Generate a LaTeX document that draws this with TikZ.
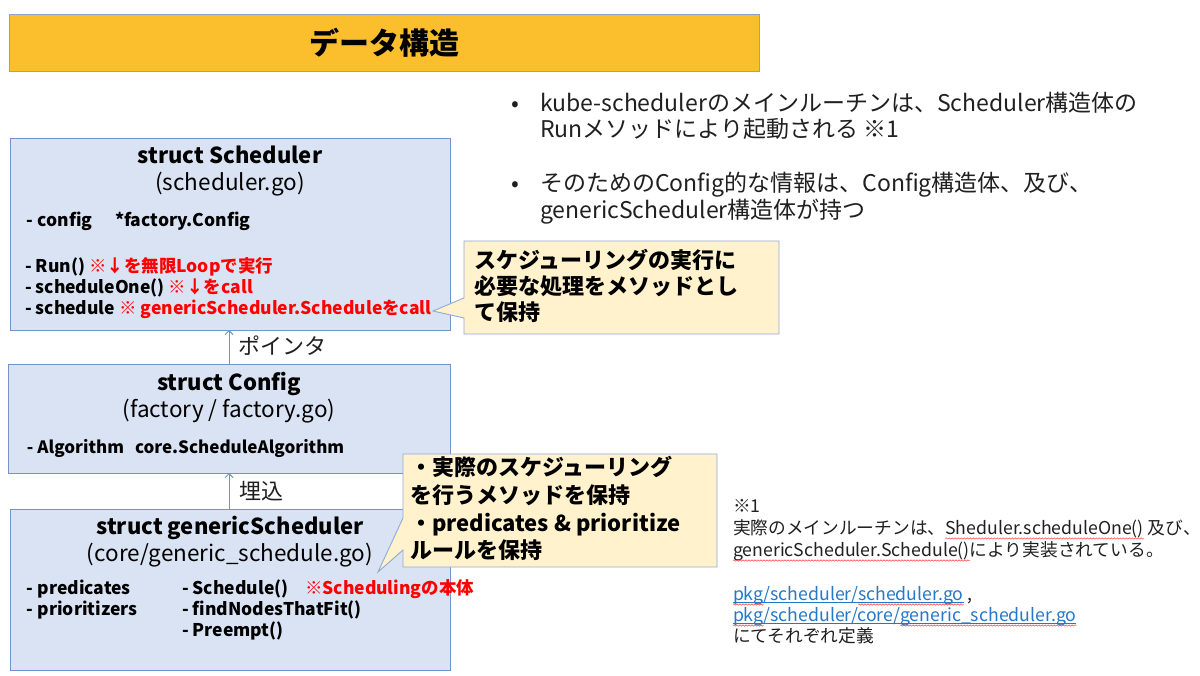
\documentclass[tikz,border=0pt]{standalone}
\usepackage{fontspec}
\setmainfont{Noto Sans CJK JP}
\usetikzlibrary{arrows.meta,decorations.pathmorphing}
\definecolor{boxfill}{HTML}{DAE3F3}
\definecolor{boxline}{HTML}{7393CC}
\definecolor{titlefill}{HTML}{FBBF2D}
\definecolor{titleline}{HTML}{8EA2C6}
\definecolor{callfill}{HTML}{FFF2CC}
\definecolor{callline}{HTML}{8FAADC}
\definecolor{redtxt}{HTML}{FF0000}
\definecolor{linkblue}{HTML}{2478C8}
\definecolor{fgtxt}{HTML}{202020}
\begin{document}
\begin{tikzpicture}[x=1pt,y=-1pt,
  every node/.style={inner sep=0pt, outer sep=0pt},
  txt/.style={anchor=base west},
  ctxt/.style={anchor=base},
  btxt/.style={anchor=base west, text height=12pt, text depth=4.5pt},
  structbox/.style={draw=boxline, fill=boxfill, line width=0.9pt, anchor=north west},
  callout/.style={draw=callline, fill=callfill, line width=0.9pt, line join=miter},
  conn/.style={draw=boxline, line width=0.9pt, -{Straight Barb[length=4pt,width=8pt]}},
  ftitle/.style={font=\fontsize{22}{26}\selectfont\bfseries, yshift=-8.1pt},
  fsub/.style={font=\fontsize{22.5}{26}\selectfont, yshift=-8.3pt},
  fitem/.style={font=\fontsize{17.5}{21}\selectfont\bfseries, yshift=-6.5pt},
  fitemb/.style={font=\fontsize{17}{21}\selectfont\bfseries, yshift=-6.3pt},
  fcall/.style={font=\fontsize{22}{26}\selectfont\bfseries, yshift=-8.1pt},
  fbul/.style={font=\fontsize{23}{27}\selectfont, text=fgtxt, yshift=-8.5pt},
  flab/.style={font=\fontsize{22}{26}\selectfont, text=fgtxt, yshift=-8.1pt},
  ffn/.style={font=\fontsize{17.7}{21}\selectfont, text=fgtxt},
  redt/.style={text=redtxt},
  wavy/.style={draw=red!75, line width=0.5pt, decorate, decoration={snake, amplitude=0.7pt, segment length=3pt}},
  linkline/.style={draw=linkblue, line width=0.5pt}
]
\useasboundingbox (0,0) rectangle (1200,676);
\fill[white] (0,0) rectangle (1200,676);

% title
\node[draw=titleline, fill=titlefill, line width=0.9pt, anchor=north west,
  minimum width=750, minimum height=57,
  font=\fontsize{30}{34}\selectfont\bfseries] (title) at (9,14) {データ構造};

% struct boxes
\node[structbox, minimum width=440, minimum height=192] (sched) at (10,138) {};
\node[structbox, minimum width=442, minimum height=109] (config) at (8,364) {};
\node[structbox, minimum width=440, minimum height=161] (generic) at (10,509) {};

% connectors
\draw[conn] (config.north) -- (config.north |- sched.south);
\draw[conn] (config.south |- generic.north) -- (config.south);
\node[txt, flab] (lptr) at (238,346) {ポインタ};
\node[txt, flab] (lemb) at (239,491) {埋込};

% Scheduler texts
\node[ctxt, ftitle] (st) at (230,155) {struct Scheduler};
\node[ctxt, fsub] (ss) at (230,182) {(scheduler.go)};
\node[txt, fitem] (s1) at (27,220) {- config};
\node[txt, fitem] (s1b) at (115,220) {*factory.Config};
\node[txt, fitem] (s2) at (25,266) {- Run() \textcolor{redtxt}{※↓を無限Loopで実行}};
\node[txt, fitem] (s3) at (25,287) {- scheduleOne() \textcolor{redtxt}{※↓をcall}};
\node[txt, fitem] (s4) at (25,308) {- schedule \textcolor{redtxt}{※ genericScheduler.Scheduleをcall}};

% Config texts
\node[ctxt, ftitle] (ct) at (229,382) {struct Config};
\node[ctxt, fsub] (cs) at (229,409) {(factory / factory.go)};
\node[txt, fitemb] (c1) at (27,447) {- Algorithm};
\node[txt, fitemb] (c1b) at (135,447) {core.ScheduleAlgorithm};

% genericScheduler texts
\node[ctxt, ftitle] (gt) at (230,526) {struct genericScheduler};
\node[ctxt, fsub] (gs) at (230,553) {(core/generic\_schedule.go)};
\node[txt, fitem] (g1) at (27,588) {- predicates};
\node[txt, fitem] (g2) at (27,609) {- prioritizers};
\node[txt, fitem] (g3) at (182,588) {- Schedule()};
\node[txt, fitem, redt] (g3r) at (305,588) {※Schedulingの本体};
\node[txt, fitem] (g4) at (182,609) {- findNodesThatFit()};
\node[txt, fitem] (g5) at (182,630) {- Preempt()};

% callout 1
\coordinate (c1nw) at (464,241);
\coordinate (c1se) at (779,334);
\coordinate (c1tip) at (433,311);
\draw[callout] (c1nw) -- (c1nw -| c1se) -- (c1se) -- (c1se -| c1nw) -- (464,318) -- (c1tip) -- (464,298) -- cycle;
\node[txt, fcall] (k1) at (474,260) {スケジューリングの実行に};
\node[txt, fcall] (k2) at (474,286) {必要な処理をメソッドとし};
\node[txt, fcall] (k3) at (474,312) {て保持};

% callout 2
\coordinate (c2nw) at (403,454);
\coordinate (c2se) at (717,567);
\coordinate (c2tip) at (378,572);
\draw[callout] (c2nw) -- (c2nw -| c2se) -- (c2se) -- (c2se -| c2nw) -- (403,550) -- (c2tip) -- (403,518) -- cycle;
\node[txt, fcall] (m1) at (410,467) {・実際のスケジューリング};
\node[txt, fcall] (m2) at (410,495) {を行うメソッドを保持};
\node[txt, fcall] (m3) at (410,523) {・predicates \& prioritize};
\node[txt, fcall] (m4) at (410,550) {ルールを保持};

% bullets
\node[ctxt, fbul] (b1) at (515,103) {•};
\node[txt, fbul] (b1a) at (540,103) {kube-schedulerのメインルーチンは、Scheduler構造体の};
\node[txt, fbul] (b1b) at (540,129) {Runメソッドにより起動される ※1};
\node[ctxt, fbul] (b2) at (515,183) {•};
\node[txt, fbul] (b2a) at (540,183) {そのためのConfig的な情報は、Config構造体、及び、};
\node[txt, fbul] (b2b) at (540,210) {genericScheduler構造体が持つ};

% footnote
\node[btxt, ffn] (f0) at (733,512) {※1};
\node[btxt, ffn] (f1a) at (733,534) {実際のメインルーチンは、};
\node[btxt, ffn] (f1b) at (f1a.base east) {Sheduler.scheduleOne()};
\node[btxt, ffn] (f1c) at (f1b.base east) {\ 及び、};
\node[btxt, ffn] (f2a) at (733,556) {genericScheduler.Schedule()};
\node[btxt, ffn] (f2b) at (f2a.base east) {により実装されている。};
\node[btxt, ffn, text=linkblue] (f3a) at (733,600) {pkg};
\node[btxt, ffn, text=linkblue] (f3b) at (f3a.base east) {/scheduler/};
\node[btxt, ffn, text=linkblue] (f3c) at (f3b.base east) {scheduler.go};
\node[btxt, ffn] (f3d) at (f3c.base east) {\ ,};
\node[btxt, ffn, text=linkblue] (f4a) at (733,621) {pkg};
\node[btxt, ffn, text=linkblue] (f4b) at (f4a.base east) {/scheduler/core/};
\node[btxt, ffn, text=linkblue] (f4c) at (f4b.base east) {generic\_scheduler.go};
\node[btxt, ffn] (f5) at (733,642) {にてそれぞれ定義};

\draw[linkline] ([yshift=2.5pt]f3a.south west) -- ([yshift=2.5pt]f3c.south east);
\draw[linkline] ([yshift=2.5pt]f4a.south west) -- ([yshift=2.5pt]f4c.south east);
\draw[wavy] (f1b.south west) -- (f1b.south east);
\draw[wavy] (f2a.south west) -- (f2a.south east);
\draw[wavy] (f3a.south west) -- (f3a.south east);
\draw[wavy] (f3c.south west) -- (f3c.south east);
\draw[wavy] (f4a.south west) -- (f4a.south east);
\draw[wavy] (f4c.south west) -- (f4c.south east);
\end{tikzpicture}
\end{document}
